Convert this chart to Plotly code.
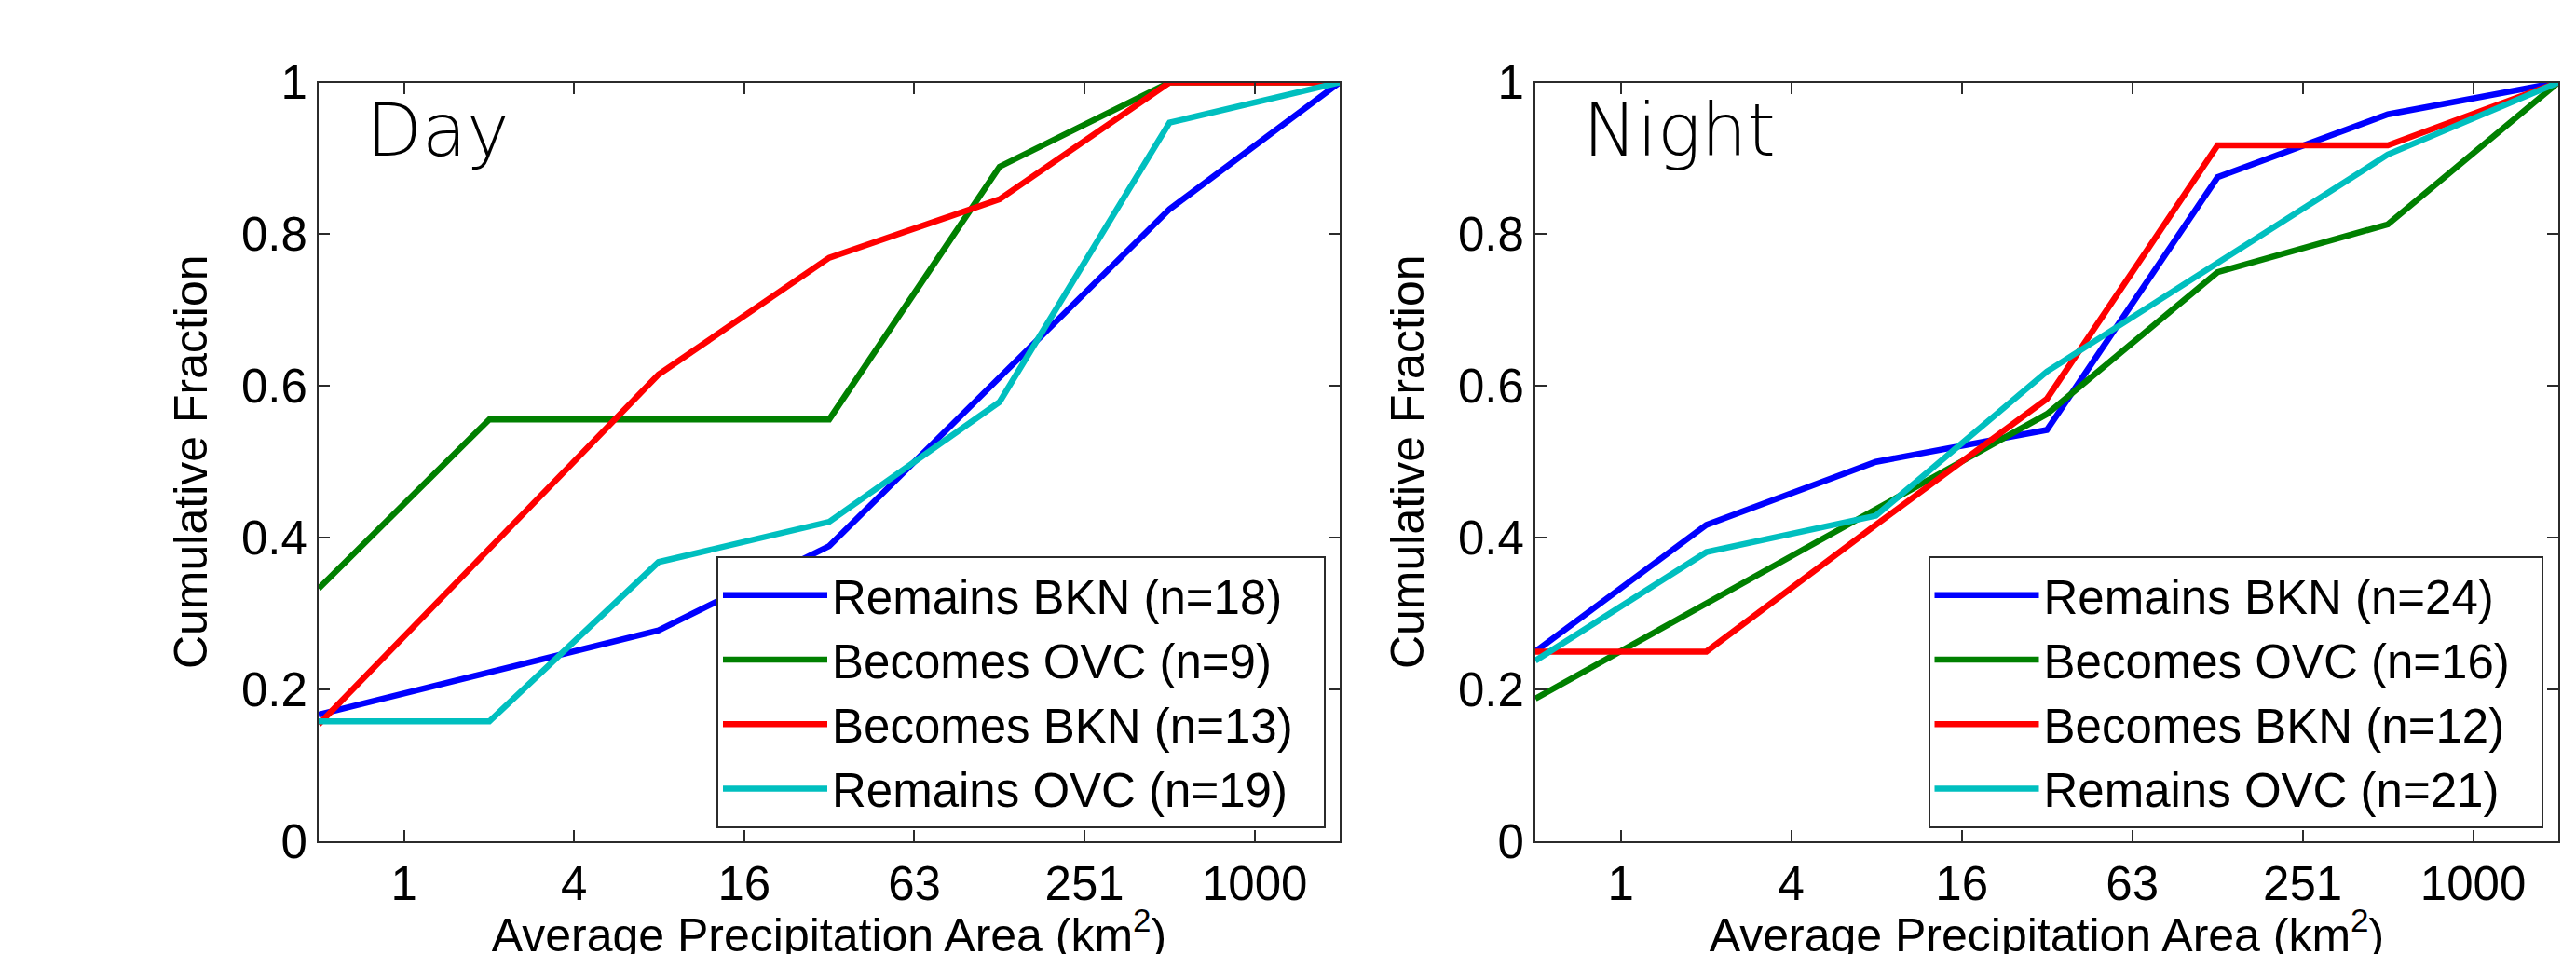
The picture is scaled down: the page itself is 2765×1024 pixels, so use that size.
import plotly.graph_objects as go

# ---- data ----
area_bins = [0.5, 2, 7.9, 31.6, 126, 501, 1995]          # km^2 bin positions
x_tick_vals = [1, 3.98, 15.85, 63.1, 251.2, 1000]
x_tick_text = ["1", "4", "16", "63", "251", "1000"]
y_tick_vals = [0, 0.2, 0.4, 0.6, 0.8, 1]
y_tick_text = ["0", "0.2", "0.4", "0.6", "0.8", "1"]

series_names = ["Remains BKN", "Becomes OVC", "Becomes BKN", "Remains OVC"]
series_colors = ["#0000FF", "#008000", "#FF0000", "#00BFBF"]

day_n = [18, 9, 13, 19]
day_remains_bkn = [0.167, 0.222, 0.278, 0.389, 0.611, 0.833, 1.0]
day_becomes_ovc = [0.333, 0.556, 0.556, 0.556, 0.889, 1.0, 1.0]
day_becomes_bkn = [0.154, 0.385, 0.615, 0.769, 0.846, 1.0, 1.0]
day_remains_ovc = [0.158, 0.158, 0.368, 0.421, 0.579, 0.947, 1.0]

night_n = [24, 16, 12, 21]
night_remains_bkn = [0.25, 0.417, 0.5, 0.542, 0.875, 0.958, 1.0]
night_becomes_ovc = [0.188, 0.313, 0.438, 0.563, 0.75, 0.813, 1.0]
night_becomes_bkn = [0.25, 0.25, 0.417, 0.583, 0.917, 0.917, 1.0]
night_remains_ovc = [0.238, 0.381, 0.429, 0.619, 0.762, 0.905, 1.0]

panel_titles = ["Day", "Night"]
x_title = "Average Precipitation Area (km<sup>2</sup>)"
y_title = "Cumulative Fraction"

day_series = [day_remains_bkn, day_becomes_ovc, day_becomes_bkn, day_remains_ovc]
night_series = [night_remains_bkn, night_becomes_ovc, night_becomes_bkn, night_remains_ovc]

FONT = "Liberation Sans, Arial, Helvetica, sans-serif"
AXC = "#2b2b2b"
PAD = "\u00a0\u00a0"

fig = go.Figure()

for vals, n, name, col in zip(day_series, day_n, series_names, series_colors):
    fig.add_trace(go.Scatter(x=area_bins, y=vals, mode="lines",
                             name=f"{name} (n={n}){PAD}",
                             line=dict(color=col, width=6.5),
                             xaxis="x", yaxis="y", legend="legend"))

for vals, n, name, col in zip(night_series, night_n, series_names, series_colors):
    fig.add_trace(go.Scatter(x=area_bins, y=vals, mode="lines",
                             name=f"{name} (n={n}){PAD}",
                             line=dict(color=col, width=6.5),
                             xaxis="x2", yaxis="y2", legend="legend2"))

W, H = 2765, 1024

def xax(domain, anchor):
    return dict(domain=domain, anchor=anchor, type="log",
                range=[-0.301, 3.2999],
                tickmode="array", tickvals=x_tick_vals, ticktext=x_tick_text,
                ticks="inside", ticklen=12, tickwidth=2, tickcolor=AXC,
                showline=True, linecolor=AXC, linewidth=2, mirror="ticks",
                showgrid=False, zeroline=False,
                tickfont=dict(family=FONT, size=51, color="#000"),
                title=dict(text=x_title, font=dict(family=FONT, size=50, color="#000"),
                           standoff=25))

def yax(domain, anchor):
    return dict(domain=domain, anchor=anchor, range=[0, 1],
                tickmode="array", tickvals=y_tick_vals, ticktext=y_tick_text,
                ticks="inside", ticklen=12, tickwidth=2, tickcolor=AXC,
                showline=True, linecolor=AXC, linewidth=2, mirror="ticks",
                showgrid=False, zeroline=False,
                tickfont=dict(family=FONT, size=51, color="#000"),
                title=dict(text=y_title, font=dict(family=FONT, size=50, color="#000"),
                           standoff=20))

ydom = [(H - 895) / H, (H - 80.5) / H]

legend_style = dict(font=dict(family=FONT, size=51, color="#000"),
                    bgcolor="white", bordercolor=AXC, borderwidth=2,
                    xanchor="right", yanchor="bottom", y=(H - 881) / H,
                    itemwidth=112, tracegroupgap=0)

fig.update_layout(
    width=W, height=H,
    margin=dict(l=0, r=0, t=0, b=0, autoexpand=False),
    paper_bgcolor="white", plot_bgcolor="white",
    xaxis=xax([334 / W, 1430 / W], "y"),
    yaxis=yax(ydom, "x"),
    xaxis2=xax([1640 / W, 2738 / W], "y2"),
    yaxis2=yax(ydom, "x2"),
    legend=dict(x=1415 / W, **legend_style),
    legend2=dict(x=2721.5 / W, **legend_style),
    showlegend=True,
)

for i, t in enumerate(panel_titles):
    sx = "" if i == 0 else "2"
    fig.add_annotation(text=t, xref=f"x{sx} domain", yref=f"y{sx} domain",
                       x=0.045, y=0.937, xanchor="left", yanchor="middle",
                       showarrow=False,
                       font=dict(family="DejaVu Sans", size=78, color="#000", weight=200))

fig.write_html("out.html")
